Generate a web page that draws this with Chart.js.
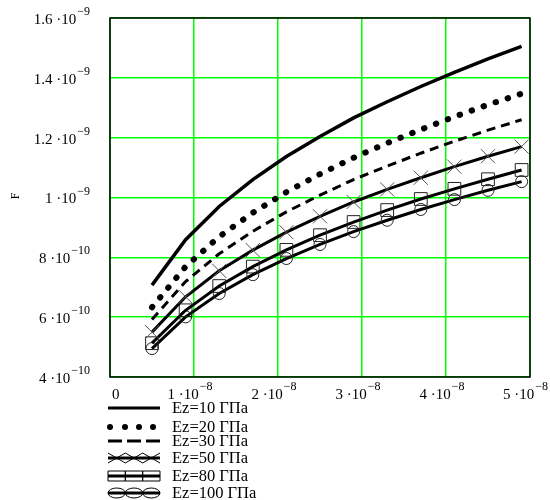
<!DOCTYPE html>
<html>
<head>
<meta charset="utf-8">
<script src="https://cdn.jsdelivr.net/npm/chart.js@4.4.0/dist/chart.umd.min.js"></script>
<style>
    body { margin: 0; background: #fff; }
    #wrap { width: 550px; height: 500px; }
</style>
</head>
<body>
<div id="wrap"><canvas id="chart1" width="550" height="500"></canvas></div>
<script>
// 데이터
const xValues = [0.5e-8, 0.9e-8, 1.3e-8, 1.7e-8, 2.1e-8, 2.5e-8, 2.9e-8, 3.3e-8, 3.7e-8, 4.1e-8, 4.5e-8, 4.9e-8];
const ez10 = [7.07e-10, 8.59e-10, 9.70e-10, 10.60e-10, 11.37e-10, 12.04e-10, 12.66e-10, 13.20e-10, 13.71e-10, 14.18e-10, 14.63e-10, 15.05e-10];
const ez20 = [6.33e-10, 7.69e-10, 8.69e-10, 9.49e-10, 10.18e-10, 10.78e-10, 11.33e-10, 11.82e-10, 12.27e-10, 12.70e-10, 13.10e-10, 13.47e-10];
const ez30 = [5.92e-10, 7.19e-10, 8.12e-10, 8.87e-10, 9.52e-10, 10.08e-10, 10.60e-10, 11.05e-10, 11.48e-10, 11.88e-10, 12.25e-10, 12.60e-10];
const ez50 = [5.50e-10, 6.68e-10, 7.55e-10, 8.24e-10, 8.84e-10, 9.37e-10, 9.85e-10, 10.27e-10, 10.66e-10, 11.03e-10, 11.38e-10, 11.70e-10];
const ez80 = [5.13e-10, 6.23e-10, 7.04e-10, 7.69e-10, 8.25e-10, 8.74e-10, 9.18e-10, 9.58e-10, 9.95e-10, 10.29e-10, 10.61e-10, 10.92e-10];
const ez100 = [4.95e-10, 6.01e-10, 6.79e-10, 7.42e-10, 7.96e-10, 8.43e-10, 8.86e-10, 9.24e-10, 9.60e-10, 9.93e-10, 10.24e-10, 10.53e-10];
const seriesNames = ["Ez=10 ГПа", "Ez=20 ГПа", "Ez=30 ГПа", "Ez=50 ГПа", "Ez=80 ГПа", "Ez=100 ГПа"];

const yTicks = [4e-10, 6e-10, 8e-10, 1e-9, 1.2e-9, 1.4e-9, 1.6e-9];
const yTickLabels = ["4 ·10^−10", "6 ·10^−10", "8 ·10^−10", "1 ·10^−9", "1.2 ·10^−9", "1.4 ·10^−9", "1.6 ·10^−9"];
const xTicks = [0, 1e-8, 2e-8, 3e-8, 4e-8, 5e-8];
const xTickLabels = ["0", "1 ·10^−8", "2 ·10^−8", "3 ·10^−8", "4 ·10^−8", "5 ·10^−8"];

const SERIF = "'Liberation Serif', 'DejaVu Serif', serif";

function points(ys) {
    return xValues.map((x, i) => ({ x: x, y: ys[i] }));
}

// 10^-n 형식 라벨
function measureLabel(ctx, label) {
    const parts = label.split("^");
    ctx.font = "15px " + SERIF;
    const w1 = ctx.measureText(parts[0]).width;
    let w2 = 0;
    if (parts[1]) {
        ctx.font = "12px " + SERIF;
        w2 = ctx.measureText(parts[1]).width + 1;
    }
    return { parts, w1, w2 };
}

function drawLabel(ctx, m, left, midY) {
    ctx.fillStyle = "#000";
    ctx.textBaseline = "middle";
    ctx.textAlign = "left";
    ctx.font = "15px " + SERIF;
    ctx.fillText(m.parts[0], left, midY);
    if (m.parts[1]) {
        ctx.font = "12px " + SERIF;
        ctx.fillText(m.parts[1], left + m.w1 + 1, midY - 8);
    }
}

function drawLegendSample(ctx, i, x0, x1, y) {
    ctx.strokeStyle = "#000";
    ctx.fillStyle = "#000";
    ctx.setLineDash([]);
    if (i === 1) {
        [110, 125, 139, 153].forEach((cx) => {
            ctx.beginPath();
            ctx.arc(cx, y, 3, 0, Math.PI * 2);
            ctx.fill();
        });
        return;
    }
    ctx.lineWidth = 3;
    if (i === 2) ctx.setLineDash([14, 5]);
    ctx.beginPath();
    ctx.moveTo(x0, y);
    ctx.lineTo(x1, y);
    ctx.stroke();
    ctx.setLineDash([]);
    ctx.lineWidth = 1;
    const w = (x1 - x0) / 3;
    for (let k = 0; k < 3; k++) {
        const cx = x0 + w * k + w / 2;
        ctx.beginPath();
        if (i === 3) {
            ctx.moveTo(cx - w / 2, y - 5);
            ctx.lineTo(cx + w / 2, y + 5);
            ctx.moveTo(cx - w / 2, y + 5);
            ctx.lineTo(cx + w / 2, y - 5);
        } else if (i === 4) {
            ctx.rect(cx - w / 2, y - 5, w, 10);
        } else if (i === 5) {
            ctx.ellipse(cx, y, w / 2, 5, 0, 0, Math.PI * 2);
        }
        ctx.stroke();
    }
}

const mathcadPlugin = {
    id: "mathcad",
    afterDraw(chart) {
        const ctx = chart.ctx;
        const a = chart.chartArea;
        const xs = chart.scales.x;
        const ys = chart.scales.y;
        ctx.save();

        // 테두리
        ctx.strokeStyle = "#000";
        ctx.lineWidth = 1.5;
        ctx.strokeRect(a.left, a.top, a.right - a.left, a.bottom - a.top);

        // Y축 라벨
        yTicks.forEach((v, i) => {
            const m = measureLabel(ctx, yTickLabels[i]);
            drawLabel(ctx, m, 90 - m.w1 - m.w2, ys.getPixelForValue(v) + 2);
        });

        // X축 라벨
        xTicks.forEach((v, i) => {
            const m = measureLabel(ctx, xTickLabels[i]);
            const px = xs.getPixelForValue(v);
            const left = m.w2 ? px - (m.w1 + m.w2) / 2 - 4 : px + 2;
            drawLabel(ctx, m, Math.min(left, 548 - m.w1 - m.w2), a.bottom + 18);
        });

        // F
        ctx.save();
        ctx.translate(16, 196);
        ctx.rotate(-Math.PI / 2);
        ctx.font = "12px " + SERIF;
        ctx.textAlign = "center";
        ctx.textBaseline = "middle";
        ctx.fillText("F", 0, 0);
        ctx.restore();

        // 범례
        const rows = [408, 427, 441, 458, 476, 493];
        seriesNames.forEach((name, i) => {
            drawLegendSample(ctx, i, 108, 160, rows[i]);
            ctx.fillStyle = "#000";
            ctx.font = "16.5px " + SERIF;
            ctx.textAlign = "left";
            ctx.textBaseline = "middle";
            ctx.fillText(name, 172, rows[i] + 1);
        });
        ctx.restore();
    },
};

const ctx1 = document.getElementById("chart1").getContext("2d");
const chart1 = new Chart(ctx1, {
    type: "line",
    data: {
        datasets: [
            { label: seriesNames[0], data: points(ez10), borderColor: "#000", borderWidth: 3.5, pointRadius: 0 },
            { label: seriesNames[1], data: points(ez20), borderColor: "#000", borderWidth: 6, borderDash: [0.5, 12.2], borderCapStyle: "round", pointRadius: 0 },
            { label: seriesNames[2], data: points(ez30), borderColor: "#000", borderWidth: 3, borderDash: [9, 6], pointRadius: 0 },
            { label: seriesNames[3], data: points(ez50), borderColor: "#000", borderWidth: 3, pointStyle: "crossRot", pointRadius: 10, pointBorderWidth: 1, pointBorderColor: "#555" },
            { label: seriesNames[4], data: points(ez80), borderColor: "#000", borderWidth: 3, pointStyle: "rect", pointRadius: 9, pointBorderWidth: 1, pointBorderColor: "#222", pointBackgroundColor: "rgba(0,0,0,0)" },
            { label: seriesNames[5], data: points(ez100), borderColor: "#000", borderWidth: 3, pointStyle: "circle", pointRadius: 6, pointBorderWidth: 1, pointBorderColor: "#222", pointBackgroundColor: "rgba(0,0,0,0)" },
        ],
    },
    options: {
        responsive: false,
        animation: false,
        layout: { padding: { top: 18, right: 20, left: 0, bottom: 0 } },
        plugins: { legend: { display: false }, tooltip: { enabled: false } },
        elements: { line: { tension: 0 } },
        scales: {
            x: {
                type: "linear",
                min: 0,
                max: 5e-8,
                afterBuildTicks: (s) => { s.ticks = xTicks.map((v) => ({ value: v })); },
                afterFit: (s) => { s.height = 123; },
                ticks: { display: false },
                border: { display: false },
                grid: { color: "#00ff00", lineWidth: 1.5, drawTicks: false },
            },
            y: {
                type: "linear",
                min: 4e-10,
                max: 1.6e-9,
                afterBuildTicks: (s) => { s.ticks = yTicks.map((v) => ({ value: v })); },
                afterFit: (s) => { s.width = 110; },
                ticks: { display: false },
                border: { display: false },
                grid: { color: "#00ff00", lineWidth: 1.5, drawTicks: false },
            },
        },
    },
    plugins: [mathcadPlugin],
});
</script>
</body>
</html>
